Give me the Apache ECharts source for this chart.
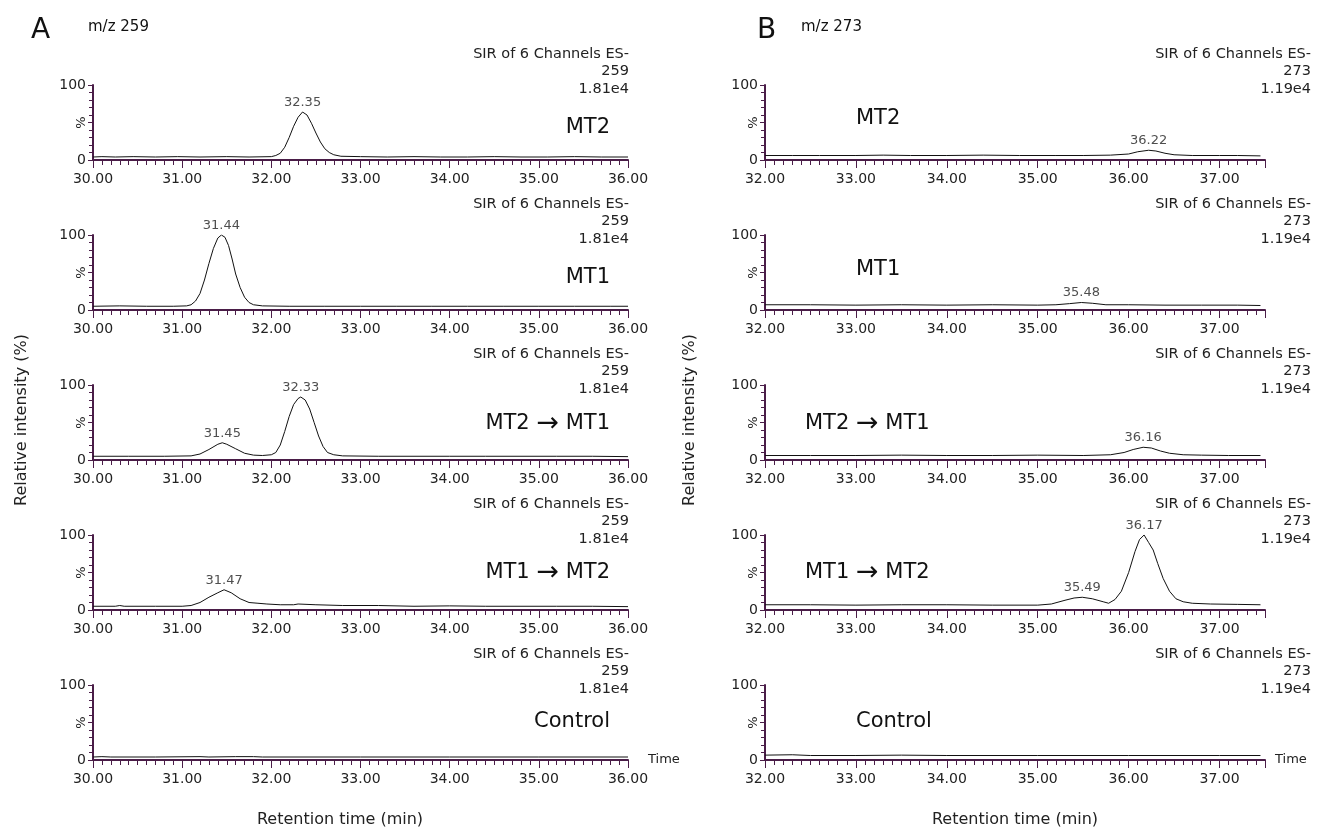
<!DOCTYPE html>
<html>
<head>
<meta charset="utf-8">
<title>SIR chromatograms m/z 259 and 273</title>
<script src="https://cdn.jsdelivr.net/npm/echarts@6/dist/echarts.min.js"></script>
<style>
    body{ margin:0; background:#fff; }
    #main{ width:1320px; height:838px; }
</style>
</head>
<body>
<div id="main"></div>
<script>
// sample names, top to bottom (rich text: arrow drawn a bit larger)
var rowNames = ['MT2', 'MT1', 'MT2 {a|\u2192} MT1', 'MT1 {a|\u2192} MT2', 'Control'];

// panel A: m/z 259, retention time (min) vs relative intensity (%)
var traceA1 = [[30.00,4],[30.10,4.5],[30.25,4],[30.45,4.5],[30.70,4],[30.95,4.5],[31.20,4],[31.50,4.5],[31.75,4],[32.00,4.5],
    [32.05,6],[32.10,9],[32.15,17],[32.20,30],[32.25,45],[32.30,57],[32.35,64],[32.40,60],[32.45,49],[32.50,36],[32.55,24],
    [32.60,15],[32.65,10],[32.70,7],[32.78,5],[33.00,4.5],[33.30,4],[33.60,4.5],[33.90,4],[34.20,4],[34.50,4.5],[34.80,4],
    [35.10,4],[35.40,4.5],[35.70,4],[36.00,4]];
var traceA2 = [[30.00,5],[30.30,5.5],[30.60,5],[30.90,5],[31.05,5.5],[31.10,7],[31.15,12],[31.20,22],[31.25,40],[31.30,62],
    [31.35,82],[31.40,96],[31.44,100],[31.48,97],[31.52,86],[31.56,68],[31.60,48],[31.65,30],[31.70,17],[31.75,10],[31.80,7],
    [31.90,5.5],[32.20,5],[32.60,5],[33.00,5],[33.40,5],[33.80,5],[34.20,5],[34.60,5],[35.00,5],[35.40,5],[35.80,5],[36.00,5]];
var traceA3 = [[30.00,5],[30.40,5],[30.80,5],[31.10,5.5],[31.20,8],[31.30,14],[31.40,21],[31.45,23],[31.50,21],[31.60,15],
    [31.70,9],[31.80,6.5],[31.90,6],[32.00,7],[32.05,10],[32.10,20],[32.15,38],[32.20,58],[32.25,74],[32.30,82],[32.33,84],
    [32.38,80],[32.43,68],[32.48,50],[32.53,32],[32.58,18],[32.63,10],[32.70,7],[32.80,5.5],[33.20,5],[33.60,5],[34.00,5],
    [34.40,5],[34.80,5],[35.20,5],[35.60,5],[36.00,4.5]];
var traceA4 = [[30.00,5],[30.25,5],[30.30,6],[30.35,5],[30.70,5],[31.00,5],[31.10,6],[31.20,10],[31.30,17],[31.40,23],
    [31.47,27],[31.55,23],[31.65,15],[31.75,10],[31.85,9],[31.95,8],[32.10,7],[32.25,7],[32.30,8],[32.50,7],[32.80,6],
    [33.20,6],[33.60,5],[34.00,5.5],[34.40,5],[34.80,5],[35.20,5],[35.60,5],[36.00,4.5]];
var traceA5 = [[30.00,4],[30.10,4.5],[30.20,4],[30.70,4],[31.20,4.5],[31.30,4],[31.60,4.5],[31.80,4.5],[31.90,4],[33.00,4],
    [34.00,4],[35.00,4],[36.00,4]];

// panel B: m/z 273
var traceB1 = [[32.00,6],[32.30,6],[32.60,6],[33.00,6],[33.30,6.5],[33.60,6],[34.00,6],[34.40,6.5],[34.80,6],[35.20,6],
    [35.50,6],[35.80,6.5],[36.00,8],[36.10,11],[36.22,13],[36.30,12],[36.40,9],[36.50,7],[36.70,6],[37.00,6],[37.20,6],[37.45,5.5]];
var traceB2 = [[32.00,7],[32.50,7],[33.00,6.5],[33.50,7],[34.00,6.5],[34.50,7],[35.00,6.5],[35.20,7],[35.35,8.5],[35.48,10],
    [35.60,9],[35.75,7],[36.00,7],[36.40,6.5],[36.80,6.5],[37.20,6.5],[37.45,6]];
var traceB3 = [[32.00,6],[32.50,6],[33.00,6],[33.50,6.5],[34.00,6],[34.50,6],[35.00,6.5],[35.50,6],[35.80,7],[35.95,10],
    [36.05,14],[36.16,17],[36.25,16],[36.35,12],[36.45,9],[36.60,7],[36.80,6.5],[37.10,6],[37.45,6]];
var traceB4 = [[32.00,7],[32.50,7],[33.00,6.5],[33.50,7],[34.00,7],[34.50,6.5],[35.00,6.5],[35.15,8],[35.30,13],[35.40,16],
    [35.49,17],[35.60,15],[35.72,11],[35.78,9],[35.85,14],[35.92,25],[36.00,50],[36.07,78],[36.12,94],[36.17,100],[36.22,90],
    [36.27,80],[36.32,62],[36.38,42],[36.45,25],[36.52,15],[36.60,11],[36.70,9],[36.90,8],[37.20,7.5],[37.45,7]];
var traceB5 = [[32.00,6.5],[32.30,7],[32.50,6],[33.00,6],[33.50,6.5],[34.00,6],[35.00,6],[36.00,6],[37.00,6],[37.45,6]];

// labelled peak apexes [time, %]
var peaksA = [[[32.35,64]], [[31.44,100]], [[31.45,23],[32.33,84]], [[31.47,27]], []];
var peaksB = [[[36.22,13]], [[35.48,10]], [[36.16,17]], [[35.49,17],[36.17,100]], []];

var xRangeA = [30, 36];   // min, max
var xRangeB = [32, 37.5];

var panels = [
    { letter:'A', mz:'259', scale:'1.81e4', traces:[traceA1,traceA2,traceA3,traceA4,traceA5], peaks:peaksA,
      range:xRangeA, left:93, width:535, textRight:629, tagAlign:'right', tagXs:[610,610,610,610,610],
      tagDy:[43,43,39,38,37], letterX:31, mzX:88, titleX:340, yTitleX:22, timeGap:20 },
    { letter:'B', mz:'273', scale:'1.19e4', traces:[traceB1,traceB2,traceB3,traceB4,traceB5], peaks:peaksB,
      range:xRangeB, left:765, width:500, textRight:1311, tagAlign:'left', tagXs:[856,856,805,805,856],
      tagDy:[34,35,39,38,37], letterX:757, mzX:801, titleX:1015, yTitleX:690, timeGap:10 }
];

var axisCol = '#4a1d48';
var font = "'DejaVu Sans', 'Liberation Sans', Arial, sans-serif";
var rowTop = 85, rowStep = 150, rowH = 75;

var grid = [], xAxis = [], yAxis = [], series = [], graphic = [];

panels.forEach(function (p, pi) {
    for (var r = 0; r < 5; r++) {
        var gi = grid.length;
        var top = rowTop + r * rowStep;
        grid.push({ left: p.left, top: top, width: p.width, height: rowH });
        xAxis.push({
            type: 'value', gridIndex: gi, min: p.range[0], max: p.range[1], interval: 1,
            name: r === 4 ? 'Time' : '', nameLocation: 'end', nameGap: p.timeGap,
            nameTextStyle: { fontFamily: font, fontSize: 13, color: '#222', verticalAlign: 'middle' },
            axisLine: { show: true, onZero: false, lineStyle: { color: axisCol, width: 2 } },
            axisTick: { show: true, length: 8, lineStyle: { color: axisCol } },
            minorTick: { show: true, splitNumber: 10, length: 5, lineStyle: { color: axisCol } },
            axisLabel: { fontFamily: font, fontSize: 14, color: '#222', margin: 12, showMaxLabel: pi === 0,
                formatter: function (v) { return v.toFixed(2); } },
            splitLine: { show: false }
        });
        yAxis.push({
            type: 'value', gridIndex: gi, min: 0, max: 100, interval: 50, position: 'left',
            axisLine: { show: true, lineStyle: { color: axisCol, width: 2 } },
            axisTick: { show: true, length: 5, lineStyle: { color: axisCol } },
            minorTick: { show: true, splitNumber: 5, length: 4, lineStyle: { color: axisCol } },
            axisLabel: { fontFamily: font, fontSize: 14, color: '#222', margin: 7,
                formatter: function (v) { return v === 50 ? '' : String(v); } },
            splitLine: { show: false }
        });
        // rotated % marker at mid height
        yAxis.push({
            type: 'value', gridIndex: gi, min: 0, max: 100, interval: 50, position: 'left', offset: 0,
            axisLine: { show: false }, axisTick: { show: false }, splitLine: { show: false },
            axisLabel: { fontFamily: font, fontSize: 13, color: '#222', margin: 5, rotate: 90,
                formatter: function (v) { return v === 50 ? '%' : ''; } }
        });
        series.push({
            type: 'line', xAxisIndex: gi, yAxisIndex: gi * 2, data: p.traces[r],
            symbol: 'none', silent: true, lineStyle: { color: '#111', width: 1 }
        });
        series.push({
            type: 'scatter', xAxisIndex: gi, yAxisIndex: gi * 2, data: p.peaks[r],
            symbolSize: 0, silent: true,
            label: { show: true, position: 'top', distance: 3, fontFamily: font, fontSize: 13, color: '#222',
                formatter: function (d) { return d.value[0].toFixed(2); } }
        });
        // instrument header, right aligned
        graphic.push({
            type: 'text', x: p.textRight, y: top - 40,
            style: { text: 'SIR of 6 Channels ES-\n' + p.mz + '\n' + p.scale, align: 'right', verticalAlign: 'top',
                font: '14.5px ' + font, fill: '#222', lineHeight: 17.5 }
        });
        // sample tag
        graphic.push({
            type: 'text', x: p.tagXs[r], y: top + p.tagDy[r],
            style: { text: rowNames[r], align: p.tagAlign, verticalAlign: 'middle',
                font: '21px ' + font, fill: '#111',
                rich: { a: { fontFamily: font, fontSize: 27, fill: '#111' } } }
        });
    }
    graphic.push({ type: 'text', x: p.letterX, y: 31,
        style: { text: p.letter, font: '28px ' + font, fill: '#111', align: 'left', verticalAlign: 'middle' } });
    graphic.push({ type: 'text', x: p.mzX, y: 27,
        style: { text: 'm/z ' + p.mz, font: '15px ' + font, fill: '#111', align: 'left', verticalAlign: 'middle' } });
    graphic.push({ type: 'text', x: p.titleX, y: 820,
        style: { text: 'Retention time (min)', font: '16px ' + font, fill: '#222', align: 'center', verticalAlign: 'middle' } });
    graphic.push({ type: 'text', x: p.yTitleX, y: 420, rotation: Math.PI / 2,
        style: { text: 'Relative intensity (%)', font: '16px ' + font, fill: '#222', align: 'center', verticalAlign: 'middle' } });
});

var myChart = echarts.init(document.getElementById('main'));
myChart.setOption({
    animation: false,
    backgroundColor: '#fff',
    grid: grid,
    xAxis: xAxis,
    yAxis: yAxis,
    series: series,
    graphic: graphic
});
</script>
</body>
</html>
